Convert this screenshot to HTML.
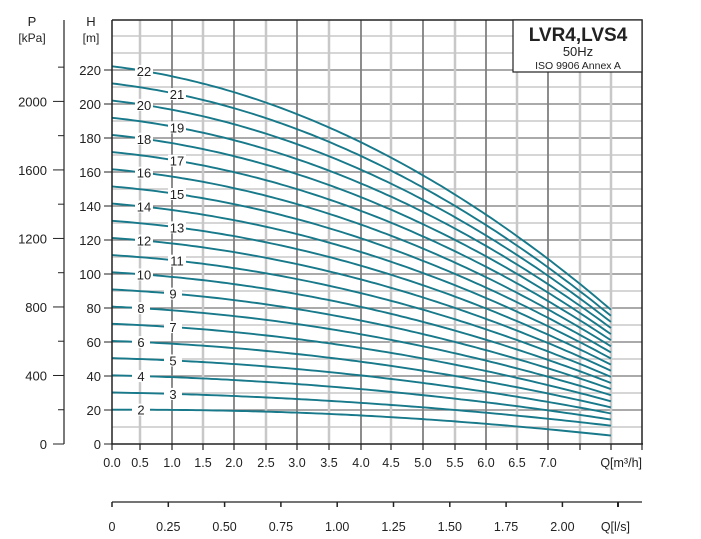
<!DOCTYPE html>
<html><head><meta charset="utf-8"><style>
html,body{margin:0;padding:0;background:#fff;}
svg{display:block;font-family:"Liberation Sans",Arial,sans-serif;}
</style></head><body>
<svg id="s" width="701" height="539" viewBox="0 0 701 539" xmlns="http://www.w3.org/2000/svg"></svg>
<script>
const s=document.getElementById('s');let h='';
const X0=112,X1=642,Y0=444,YT=20;
const xq=q=>112+q*62.6;
const yH=H=>444-H*1.7;
for(let H=10;H<=240;H+=10){const y=yH(H);const dark=(H%20==0&&H<=220);
h+=`<line x1="${X0}" x2="${X1}" y1="${y}" y2="${y}" stroke="${dark?'#777':'#c8c8c8'}" stroke-width="${dark?1.2:1.5}"/>`;}
const vx=[[140,0],[172,1],[203,0],[234,1],[266,0],[297,1],[329,0],[361,1],[391,0],[423,1],[455,0],[486,1],[517,0],[548,1],[580,0],[611,0]];
vx.forEach(([x,d])=>{h+=`<line x1="${x}" x2="${x}" y1="${YT}" y2="${Y0}" stroke="${d?'#808080':'#c8c8c8'}" stroke-width="${d?1.8:2.5}"/>`;});
const stage=q=>10.1-0.207*q-0.0765*q*q;
const QE=7.97;
const labs=[];
for(let N=2;N<=22;N++){let pts=[];
for(let i=0;i<=100;i++){const q=QE*i/100;let v=N*stage(q);if(N==2)v=v-0.035*q*q+1.2*Math.sin(Math.PI*q/QE);pts.push(xq(q).toFixed(1)+','+yH(v).toFixed(1));}
h+=`<polyline points="${pts.join(' ')}" fill="none" stroke="#17798a" stroke-width="1.9"/>`;
const odd=N%2==1;const lx=N>=10?(odd?177:144):(odd?173:141);const q=(lx-112)/62.6;
let v=N*stage(q);if(N==2)v=v-0.035*q*q+1.2*Math.sin(Math.PI*q/QE);
labs.push([lx,yH(v),N]);}
labs.forEach(([x,y,N])=>{h+=`<rect x="${x-9}" y="${y-6}" width="18" height="12" fill="#fff"/><text x="${x}" y="${y+5}" font-size="13" text-anchor="middle" fill="#222">${N}</text>`;});
h+=`<path d="M${X0} ${YT} H${X1} V${Y0} M${X0} ${YT} V${Y0} H${X1+1}" fill="none" stroke="#222" stroke-width="1.5"/>`;
for(let H=0;H<=220;H+=20){h+=`<line x1="104" x2="${X0}" y1="${yH(H)}" y2="${yH(H)}" stroke="#222"/><text x="101" y="${yH(H)+5}" font-size="13" text-anchor="end" fill="#222">${H}</text>`;}
h+=`<text x="91" y="26" font-size="13" text-anchor="middle" fill="#222">H</text><text x="91" y="42" font-size="12" text-anchor="middle" fill="#222">[m]</text>`;
h+=`<line x1="64" x2="64" y1="20" y2="444" stroke="#222" stroke-width="1.2"/>`;
for(let P=0;P<=2400;P+=200){const y=444-P*0.1713;if(y<40)continue;const big=P%400==0;
h+=`<line x1="${big?53:58}" x2="64" y1="${y}" y2="${y}" stroke="#222"/>`;
if(big)h+=`<text x="47" y="${y+5}" font-size="13" text-anchor="end" fill="#222">${P}</text>`;}
h+=`<text x="32" y="26" font-size="13" text-anchor="middle" fill="#222">P</text><text x="32" y="42" font-size="12" text-anchor="middle" fill="#222">[kPa]</text>`;
const xl=['0.0','0.5','1.0','1.5','2.0','2.5','3.0','3.5','4.0','4.5','5.0','5.5','6.0','6.5','7.0'];
const xs=[112,140,172,203,234,266,297,329,361,391,423,455,486,517,548,580,611,642];
xs.forEach((x,i)=>{h+=`<line x1="${x}" x2="${x}" y1="444" y2="450" stroke="#222" stroke-width="1.2"/>`;if(i<xl.length)h+=`<text x="${x}" y="467" font-size="12.5" text-anchor="middle" fill="#222">${xl[i]}</text>`;});
h+=`<text x="642" y="467" font-size="12.5" text-anchor="end" fill="#222">Q[m³/h]</text>`;
h+=`<line x1="112" x2="642" y1="502" y2="502" stroke="#222" stroke-width="1.3"/>`;
const ll=['0','0.25','0.50','0.75','1.00','1.25','1.50','1.75','2.00'];
ll.forEach((t,i)=>{const x=112+i*56.3;h+=`<line x1="${x}" x2="${x}" y1="502" y2="507" stroke="#222" stroke-width="1.5"/><text x="${x}" y="531" font-size="12.5" text-anchor="middle" fill="#222">${t}</text>`;});
h+=`<line x1="618" x2="618" y1="502" y2="507" stroke="#222" stroke-width="2"/><text x="630" y="531" font-size="12.5" text-anchor="end" fill="#222">Q[l/s]</text>`;
h+=`<rect x="513" y="20" width="129" height="52" fill="#fff" stroke="#222" stroke-width="1.2"/>`;
h+=`<text x="578" y="41" font-size="19" font-weight="bold" text-anchor="middle" fill="#222">LVR4,LVS4</text>`;
h+=`<text x="578" y="56" font-size="13" text-anchor="middle" fill="#222">50Hz</text>`;
h+=`<text x="578" y="69" font-size="10.5" text-anchor="middle" fill="#222">ISO 9906 Annex A</text>`;
s.innerHTML=h;
</script>
</body></html>
